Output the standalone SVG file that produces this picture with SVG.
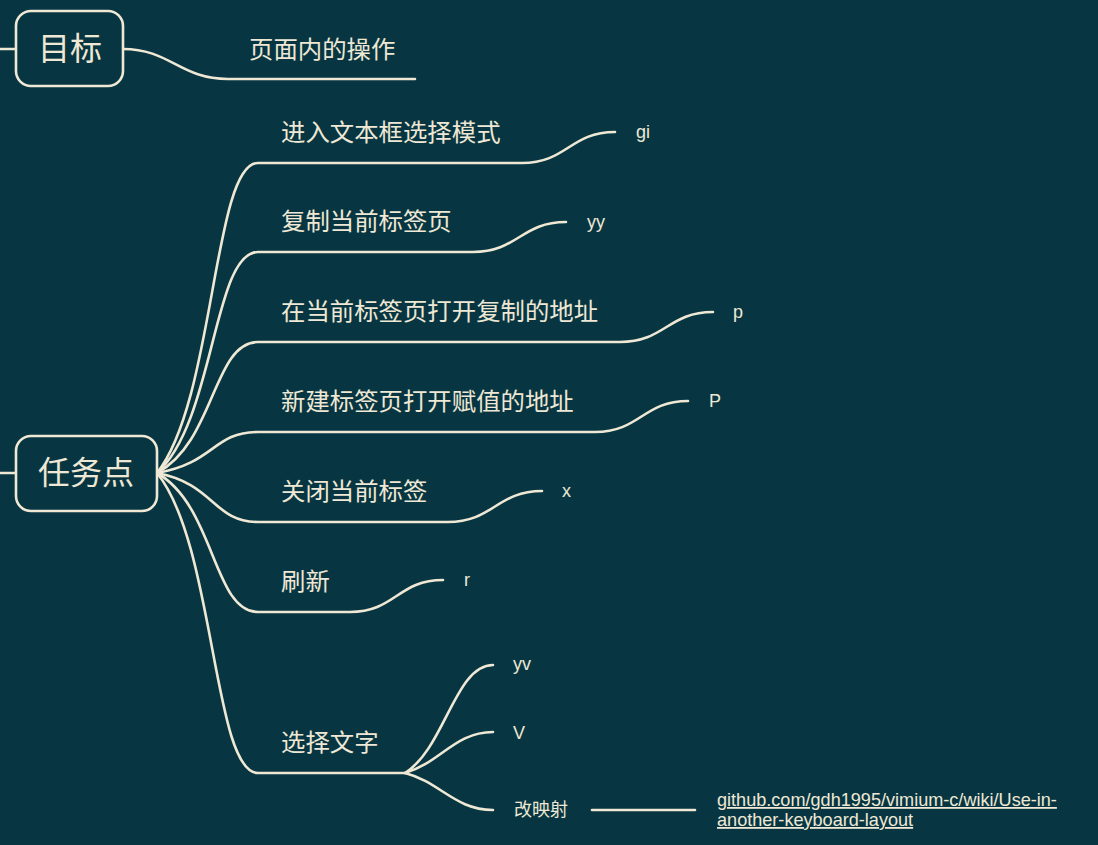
<svg xmlns="http://www.w3.org/2000/svg" width="1098" height="845" viewBox="0 0 1098 845">
<style>
.bg{fill:#073642}
.ln{fill:none;stroke:#EEE8D5;stroke-width:2.6;stroke-linecap:round}
.box{fill:#073642;stroke:#EEE8D5;stroke-width:2.6}
.t{fill:#EEE8D5;font-family:"Liberation Sans","Noto Sans CJK SC",sans-serif}
.big{font-size:32px;text-anchor:middle}
.mid{font-size:24.4px}
.sm{font-size:18px}
.lnk{font-size:18.1px;text-decoration:underline}
</style>
<rect class="bg" x="0" y="0" width="1098" height="845"/>
<g id="connectors">
<path class="ln" d="M0,49 L16,49"/>
<path class="ln" d="M123,49 C170,49 180,79 228,79 L415,79"/>
<path class="ln" d="M0,473 L16,473"/>
<path class="ln" d="M157,473 C215,400 213,163 258,163 L522,163 C567,163 570,132 615,132"/>
<path class="ln" d="M157,473 C215,421 213,252 258,252 L473,252 C518,252 521,222 566,222"/>
<path class="ln" d="M157,473 C215,442 213,342 258,342 L620,342 C665,342 668,312 713,312"/>
<path class="ln" d="M157,473 C215,463 213,432 258,432 L595,432 C640,432 643,401 688,401"/>
<path class="ln" d="M157,473 C215,484 213,522 258,522 L448,522 C493,522 497,491 542,491"/>
<path class="ln" d="M157,473 C215,506 213,612 258,612 L350,612 C395,612 398,580 443,580"/>
<path class="ln" d="M157,473 C215,544 213,773 258,773 L405,773"/>
<path class="ln" d="M405,773 C445,748 455,665 493,665"/>
<path class="ln" d="M405,773 C440,763 455,732 493,732"/>
<path class="ln" d="M405,773 C440,782 455,810 493,810"/>
<path class="ln" d="M592,810 L695,810"/>
</g>
<g id="n-goal">
<rect class="box" x="16" y="11" width="107" height="75" rx="15"/>
<text class="t big" x="70" y="60">目标</text>
</g>
<g id="n-goal-ops"><text class="t mid" x="249" y="58">页面内的操作</text></g>
<g id="n-tasks">
<rect class="box" x="16" y="436" width="141" height="75" rx="15"/>
<text class="t big" x="86" y="484">任务点</text>
</g>
<g id="n-b1"><text class="t mid" x="281" y="141">进入文本框选择模式</text></g>
<g id="n-b1-l"><text class="t sm" x="636" y="138">gi</text></g>
<g id="n-b2"><text class="t mid" x="281" y="230">复制当前标签页</text></g>
<g id="n-b2-l"><text class="t sm" x="587" y="228">yy</text></g>
<g id="n-b3"><text class="t mid" x="281" y="320">在当前标签页打开复制的地址</text></g>
<g id="n-b3-l"><text class="t sm" x="733" y="318">p</text></g>
<g id="n-b4"><text class="t mid" x="281" y="410">新建标签页打开赋值的地址</text></g>
<g id="n-b4-l"><text class="t sm" x="709" y="407">P</text></g>
<g id="n-b5"><text class="t mid" x="281" y="500">关闭当前标签</text></g>
<g id="n-b5-l"><text class="t sm" x="562" y="497">x</text></g>
<g id="n-b6"><text class="t mid" x="281" y="590">刷新</text></g>
<g id="n-b6-l"><text class="t sm" x="464" y="586">r</text></g>
<g id="n-b7"><text class="t mid" x="281" y="751">选择文字</text></g>
<g id="n-b7-yv"><text class="t sm" x="513" y="670">yv</text></g>
<g id="n-b7-V"><text class="t sm" x="513" y="739">V</text></g>
<g id="n-b7-remap"><text class="t sm" x="514" y="816">改映射</text></g>
<g id="n-link">
<text class="t lnk" x="717" y="806">github.com/gdh1995/vimium-c/wiki/Use-in-</text>
<text class="t lnk" x="717" y="826">another-keyboard-layout</text>
</g>
</svg>
